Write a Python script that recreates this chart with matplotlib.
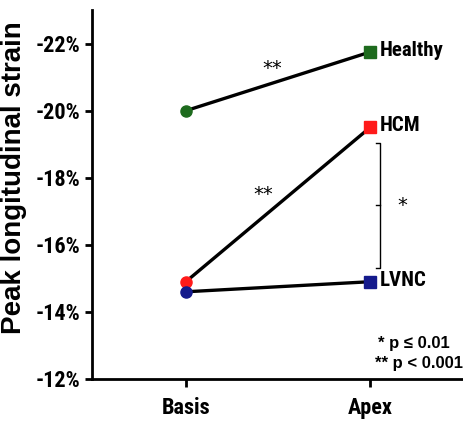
import matplotlib.pyplot as plt

# values (peak longitudinal strain, %)
positions = ["Basis", "Apex"]
groups = ["Healthy", "HCM", "LVNC"]
basis = [-20.0, -14.9, -14.6]
apex = [-21.75, -19.5, -14.9]
colors = ["#1e6b1e", "#ff1a1a", "#141a8c"]
yticks = [-12, -14, -16, -18, -20, -22]

narrow = ["Roboto Condensed", "Archivo Narrow", "Liberation Sans"]
wide = ["Liberation Sans", "DejaVu Sans"]

fig = plt.figure(figsize=(4.64, 4.22), dpi=100)
ax = fig.add_axes([0.198, 0.102, 0.802, 0.874])

for i, g in enumerate(groups):
    ax.plot([0, 1], [basis[i], apex[i]], color="black", lw=2.4, zorder=2)
for i, g in enumerate(groups):
    ax.plot(0, basis[i], "o", ms=8, color=colors[i], zorder=3)
    ax.plot(1, apex[i], "s", ms=8, color=colors[i], zorder=3)
    ax.text(1.055, apex[i] - 0.05, g, family=narrow, weight="bold", fontsize=15,
            va="center", ha="left")

ax.set_xlim(-0.51, 1.51)
ax.set_ylim(-12, -23)
ax.set_xticks([0, 1])
ax.set_xticklabels(positions)
ax.set_yticks(yticks)
ax.set_yticklabels([f"{v}%" for v in yticks])
for lab in ax.get_xticklabels() + ax.get_yticklabels():
    lab.set_family(narrow)
    lab.set_weight("bold")
    lab.set_fontsize(16)
ax.tick_params(axis="x", width=2, length=6, pad=7)
ax.tick_params(axis="y", width=2, length=5, pad=3)
ax.spines["top"].set_visible(False)
ax.spines["right"].set_visible(False)
ax.spines["left"].set_linewidth(2)
ax.spines["bottom"].set_linewidth(2)
ax.set_ylabel("Peak longitudinal strain", family=wide, weight="bold", fontsize=20)
ax.yaxis.set_label_coords(-0.175, 0.545)

# significance annotations
ax.text(0.47, -21.25, "**", fontsize=14, ha="center", va="center", family="DejaVu Sans")
ax.text(0.42, -17.5, "**", fontsize=14, ha="center", va="center", family="DejaVu Sans")
bx, ytop, ybot = 1.055, -19.05, -15.32
ax.plot([bx - 0.02, bx, bx, bx - 0.02], [ytop, ytop, ybot, ybot], color="black", lw=1)
ymid = (ytop + ybot) / 2
ax.plot([bx - 0.025, bx], [ymid, ymid], color="black", lw=1)
ax.text(bx + 0.12, ymid, "*", fontsize=14, ha="center", va="center", family="DejaVu Sans")

ax.text(1.43, -13.05, "* p ≤ 0.01", fontsize=12, weight="bold", ha="right", va="center",
        family=wide)
ax.text(1.505, -12.45, "** p < 0.001", fontsize=12, weight="bold", ha="right", va="center",
        family=wide)

fig.savefig("out.png", dpi=100)
